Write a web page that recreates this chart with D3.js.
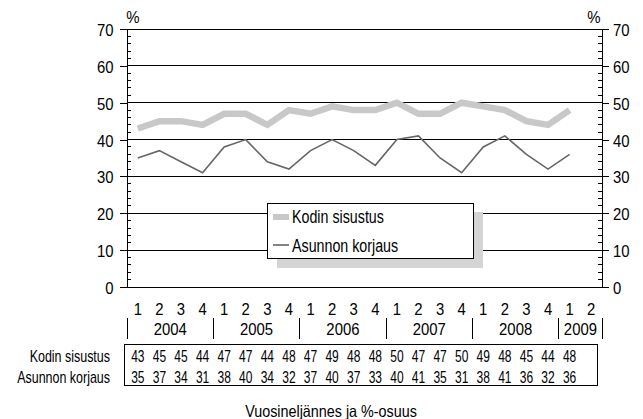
<!DOCTYPE html>
<html>
<head>
<meta charset="utf-8">
<script src="https://cdn.jsdelivr.net/npm/d3@7"></script>
<style>
  html, body { margin: 0; padding: 0; background: #fff; }
  svg { display: block; }
  text { font-family: "Liberation Sans", Arial, sans-serif; fill: #000; }
</style>
</head>
<body>
<svg id="chart" width="643" height="419"></svg>
<script>
const quarters = ["1","2","3","4","1","2","3","4","1","2","3","4","1","2","3","4","1","2","3","4","1","2"];
const years = ["2004","2005","2006","2007","2008","2009"];
const yearQuarterCounts = [4,4,4,4,4,2];
const seriesNames = ["Kodin sisustus","Asunnon korjaus"];
const kodinSisustus = [43,45,45,44,47,47,44,48,47,49,48,48,50,47,47,50,49,48,45,44,48];
const asunnonKorjaus = [35,37,34,31,38,40,34,32,37,40,37,33,40,41,35,31,38,41,36,32,36];
const yTicks = [0,10,20,30,40,50,60,70];
const xTitle = "Vuosineljännes ja %-osuus";

const svg = d3.select("#chart");
const pLeft = 127, pRight = 602, pTop = 29, pBottom = 287;

const x = d3.scaleBand().domain(d3.range(quarters.length)).range([pLeft, pRight]).padding(0);
const y = d3.scaleLinear().domain([0, 70]).range([pBottom, pTop]);
const cx = i => x(i) + x.bandwidth() / 2;

// condensed text helper
function txt(sel, tx, ty, s, size, sx, anchor) {
  return sel.append("text")
    .attr("transform", `translate(${tx},${ty}) scale(${sx},1)`)
    .attr("text-anchor", anchor || "start")
    .attr("font-size", size)
    .text(s);
}

// gridlines
svg.append("g").selectAll("line").data(yTicks.filter(d => d > 0)).join("line")
  .attr("x1", pLeft).attr("x2", pRight)
  .attr("y1", d => y(d)).attr("y2", d => y(d))
  .attr("stroke", "#000").attr("stroke-width", 1).attr("shape-rendering", "crispEdges");

// minor ticks
const minor = d3.range(0, 71, 2).filter(d => d % 10 !== 0);
svg.append("g").selectAll("line").data(minor).join("line")
  .attr("x1", pLeft).attr("x2", pLeft + 4)
  .attr("y1", d => y(d)).attr("y2", d => y(d))
  .attr("stroke", "#000").attr("shape-rendering", "crispEdges");
svg.append("g").selectAll("line").data(minor).join("line")
  .attr("x1", pRight - 4).attr("x2", pRight)
  .attr("y1", d => y(d)).attr("y2", d => y(d))
  .attr("stroke", "#000").attr("shape-rendering", "crispEdges");

// axes (lines and major ticks); labels drawn condensed below
const yl = svg.append("g").attr("transform", `translate(${pLeft},0)`)
  .call(d3.axisLeft(y).tickValues(yTicks).tickSize(7).tickFormat(""));
const yr = svg.append("g").attr("transform", `translate(${pRight},0)`)
  .call(d3.axisRight(y).tickValues(yTicks).tickSize(7).tickFormat(""));
[yl, yr].forEach(g => {
  g.select(".domain").attr("stroke", "#000").attr("shape-rendering", "crispEdges");
  g.selectAll(".tick line").attr("stroke", "#000").attr("shape-rendering", "crispEdges");
});
yTicks.forEach(v => {
  txt(svg, 113.5, y(v) + 7, String(v), 16, 0.93, "end");
  txt(svg, 613, y(v) + 7, String(v), 16, 0.93, "start");
});
// baseline
svg.append("line").attr("x1", pLeft).attr("x2", pRight).attr("y1", y(0)).attr("y2", y(0))
  .attr("stroke", "#000").attr("shape-rendering", "crispEdges");

txt(svg, 133, 22.5, "%", 17, 0.88, "middle");
txt(svg, 594, 22.5, "%", 17, 0.88, "middle");

// lines
const line = d3.line().x((d, i) => cx(i)).y(d => y(d));
svg.append("path").datum(kodinSisustus).attr("d", line)
  .attr("fill", "none").attr("stroke", "#c8c8c8").attr("stroke-width", 6.5).attr("stroke-linejoin", "miter");
svg.append("path").datum(asunnonKorjaus).attr("d", line)
  .attr("fill", "none").attr("stroke", "#666").attr("stroke-width", 1.6);

// legend
const lg = svg.append("g");
lg.append("rect").attr("x", 277).attr("y", 212).attr("width", 206).attr("height", 56).attr("fill", "#d4d4d4");
lg.append("rect").attr("x", 267.5).attr("y", 203.5).attr("width", 206).attr("height", 55)
  .attr("fill", "#fff").attr("stroke", "#000").attr("stroke-width", 1);
lg.append("line").attr("x1", 273).attr("x2", 289).attr("y1", 217).attr("y2", 217)
  .attr("stroke", "#c8c8c8").attr("stroke-width", 6);
lg.append("line").attr("x1", 273).attr("x2", 289).attr("y1", 245).attr("y2", 245)
  .attr("stroke", "#666").attr("stroke-width", 1.6);
txt(lg, 292, 223, seriesNames[0], 17.5, 0.815);
txt(lg, 292, 252, seriesNames[1], 17.5, 0.815);

// quarter labels
quarters.forEach((q, i) => txt(svg, cx(i), 315, q, 16, 0.93, "middle"));

// year separators and labels
const starts = [0];
yearQuarterCounts.forEach((c, i) => starts.push(starts[i] + c));
const edge = d => d < quarters.length ? x(d) : pRight;
svg.append("g").selectAll("line").data(starts).join("line")
  .attr("x1", d => edge(d)).attr("x2", d => edge(d))
  .attr("y1", 318).attr("y2", 339).attr("stroke", "#000").attr("shape-rendering", "crispEdges");
years.forEach((yr_, i) => txt(svg, (edge(starts[i]) + edge(starts[i + 1])) / 2, 335, yr_, 16, 0.93, "middle"));

// data table
svg.append("rect").attr("x", 124.5).attr("y", 344.5).attr("width", 473).attr("height", 41)
  .attr("fill", "none").attr("stroke", "#000");
kodinSisustus.forEach((v, i) => txt(svg, cx(i), 362, String(v), 16, 0.75, "middle"));
asunnonKorjaus.forEach((v, i) => txt(svg, cx(i), 382.5, String(v), 16, 0.75, "middle"));
txt(svg, 110, 362, seriesNames[0], 16, 0.78, "end");
txt(svg, 110, 382.5, seriesNames[1], 16, 0.78, "end");

txt(svg, 331, 416.5, xTitle, 16.5, 0.87, "middle");
</script>
</body>
</html>
